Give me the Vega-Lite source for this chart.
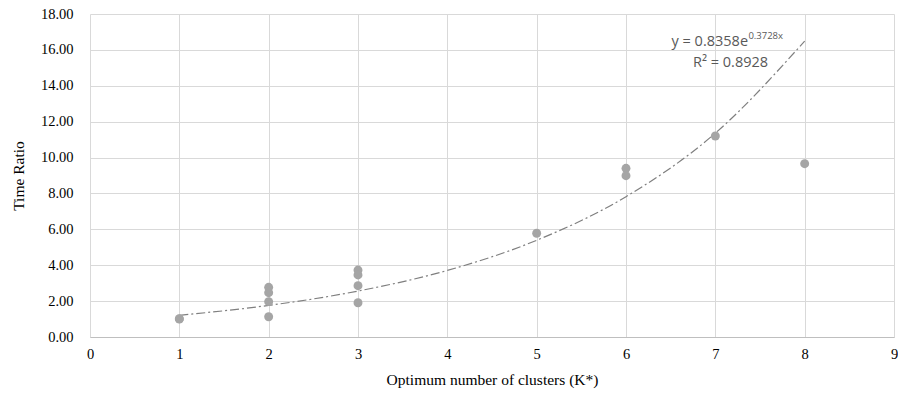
{
  "$schema": "https://vega.github.io/schema/vega-lite/v6.json",
  "width": 804,
  "height": 323,
  "autosize": {"type": "none"},
  "padding": {"left": 90, "top": 14, "right": 4, "bottom": 64},
  "background": "white",
  "config": {
    "view": {"stroke": null},
    "font": "Liberation Serif",
    "axis": {
      "labelFont": "Liberation Serif",
      "titleFont": "Liberation Serif",
      "labelFontSize": 14.5,
      "titleFontSize": 15.5,
      "titleFontWeight": "normal",
      "labelColor": "#000000",
      "titleColor": "#000000",
      "gridColor": "#d9d9d9",
      "gridWidth": 1,
      "ticks": false,
      "labelOverlap": false
    }
  },
  "datasets": {
    "points": [
      {"k": 1, "v": 1.0},
      {"k": 1, "v": 1.02},
      {"k": 2, "v": 2.77},
      {"k": 2, "v": 2.47},
      {"k": 2, "v": 1.97},
      {"k": 2, "v": 1.13},
      {"k": 3, "v": 3.73},
      {"k": 3, "v": 3.46},
      {"k": 3, "v": 2.86},
      {"k": 3, "v": 1.91},
      {"k": 5, "v": 5.78},
      {"k": 6, "v": 9.4},
      {"k": 6, "v": 8.99},
      {"k": 7, "v": 11.2},
      {"k": 8, "v": 9.66}
    ],
    "trend": [
      {"k": 1, "v": 1.21},
      {"k": 2, "v": 1.76},
      {"k": 3, "v": 2.56},
      {"k": 4, "v": 3.71},
      {"k": 5, "v": 5.39},
      {"k": 6, "v": 7.82},
      {"k": 7, "v": 11.36},
      {"k": 8, "v": 16.49}
    ],
    "labels": [
      {"part": "main", "label": "y = 0.8358e"},
      {"part": "sup", "label": "0.3728x"},
      {"part": "r2", "label": "R² = 0.8928"}
    ]
  },
  "layer": [
    {
      "data": {"name": "trend"},
      "mark": {"type": "line", "color": "#7f7f7f", "strokeWidth": 1.2, "strokeDash": [9, 3, 2, 3], "interpolate": "monotone"},
      "encoding": {
        "x": {
          "field": "k", "type": "quantitative",
          "scale": {"domain": [0, 9], "nice": false},
          "axis": {
            "values": [0, 1, 2, 3, 4, 5, 6, 7, 8, 9],
            "format": "d",
            "title": "Optimum number of clusters (K*)",
            "labelFont": "Liberation Serif",
            "titleFont": "Liberation Serif",
            "labelPadding": 10,
            "titlePadding": 12,
            "domainColor": "#bfbfbf",
            "labelFlush": false
          }
        },
        "y": {
          "field": "v", "type": "quantitative",
          "scale": {"domain": [0, 18], "nice": false},
          "axis": {
            "values": [0, 2, 4, 6, 8, 10, 12, 14, 16, 18],
            "format": ".2f",
            "title": "Time Ratio",
            "labelFont": "Liberation Serif",
            "titleFont": "Liberation Serif",
            "labelPadding": 17,
            "titlePadding": 14,
            "domain": false
          }
        }
      }
    },
    {
      "data": {"name": "points"},
      "mark": {"type": "point", "filled": true, "opacity": 1, "color": "#a5a5a5", "size": 80},
      "encoding": {
        "x": {
          "field": "k", "type": "quantitative",
          "axis": {
            "values": [0, 1, 2, 3, 4, 5, 6, 7, 8, 9],
            "format": "d",
            "title": "Optimum number of clusters (K*)",
            "labelFont": "Liberation Serif",
            "titleFont": "Liberation Serif",
            "labelPadding": 10,
            "titlePadding": 12,
            "domainColor": "#bfbfbf",
            "labelFlush": false
          }
        },
        "y": {
          "field": "v", "type": "quantitative",
          "axis": {
            "values": [0, 2, 4, 6, 8, 10, 12, 14, 16, 18],
            "format": ".2f",
            "title": "Time Ratio",
            "labelFont": "Liberation Serif",
            "titleFont": "Liberation Serif",
            "labelPadding": 17,
            "titlePadding": 14,
            "domain": false
          }
        }
      }
    },
    {
      "data": {"name": "labels"},
      "transform": [{"filter": "datum.part === 'main'"}],
      "mark": {"type": "text", "align": "right", "baseline": "alphabetic", "font": "Open Sans", "fontSize": 14.5, "color": "#595959"},
      "encoding": {
        "x": {
          "datum": 7.366, "type": "quantitative",
          "axis": {
            "values": [0, 1, 2, 3, 4, 5, 6, 7, 8, 9],
            "format": "d",
            "title": "Optimum number of clusters (K*)",
            "labelFont": "Liberation Serif",
            "titleFont": "Liberation Serif",
            "labelPadding": 10,
            "titlePadding": 12,
            "domainColor": "#bfbfbf",
            "labelFlush": false
          }
        },
        "y": {
          "datum": 16.22, "type": "quantitative",
          "axis": {
            "values": [0, 2, 4, 6, 8, 10, 12, 14, 16, 18],
            "format": ".2f",
            "title": "Time Ratio",
            "labelFont": "Liberation Serif",
            "titleFont": "Liberation Serif",
            "labelPadding": 17,
            "titlePadding": 14,
            "domain": false
          }
        },
        "text": {"field": "label"}
      }
    },
    {
      "data": {"name": "labels"},
      "transform": [{"filter": "datum.part === 'sup'"}],
      "mark": {"type": "text", "align": "left", "baseline": "alphabetic", "font": "Open Sans", "fontSize": 9.5, "color": "#595959"},
      "encoding": {
        "x": {
          "datum": 7.37, "type": "quantitative",
          "axis": {
            "values": [0, 1, 2, 3, 4, 5, 6, 7, 8, 9],
            "format": "d",
            "title": "Optimum number of clusters (K*)",
            "labelFont": "Liberation Serif",
            "titleFont": "Liberation Serif",
            "labelPadding": 10,
            "titlePadding": 12,
            "domainColor": "#bfbfbf",
            "labelFlush": false
          }
        },
        "y": {
          "datum": 16.62, "type": "quantitative",
          "axis": {
            "values": [0, 2, 4, 6, 8, 10, 12, 14, 16, 18],
            "format": ".2f",
            "title": "Time Ratio",
            "labelFont": "Liberation Serif",
            "titleFont": "Liberation Serif",
            "labelPadding": 17,
            "titlePadding": 14,
            "domain": false
          }
        },
        "text": {"field": "label"}
      }
    },
    {
      "data": {"name": "labels"},
      "transform": [{"filter": "datum.part === 'r2'"}],
      "mark": {"type": "text", "align": "right", "baseline": "alphabetic", "font": "Open Sans", "fontSize": 14.5, "color": "#595959"},
      "encoding": {
        "x": {
          "datum": 7.59, "type": "quantitative",
          "axis": {
            "values": [0, 1, 2, 3, 4, 5, 6, 7, 8, 9],
            "format": "d",
            "title": "Optimum number of clusters (K*)",
            "labelFont": "Liberation Serif",
            "titleFont": "Liberation Serif",
            "labelPadding": 10,
            "titlePadding": 12,
            "domainColor": "#bfbfbf",
            "labelFlush": false
          }
        },
        "y": {
          "datum": 15.05, "type": "quantitative",
          "axis": {
            "values": [0, 2, 4, 6, 8, 10, 12, 14, 16, 18],
            "format": ".2f",
            "title": "Time Ratio",
            "labelFont": "Liberation Serif",
            "titleFont": "Liberation Serif",
            "labelPadding": 17,
            "titlePadding": 14,
            "domain": false
          }
        },
        "text": {"field": "label"}
      }
    }
  ]
}
